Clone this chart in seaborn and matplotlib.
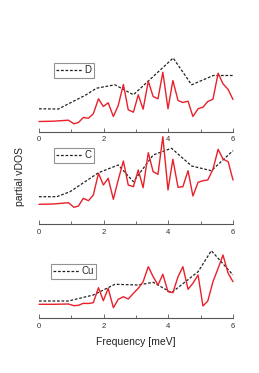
import matplotlib
matplotlib.use("Agg")
import matplotlib.pyplot as plt
import seaborn as sns
import pandas as pd
from matplotlib.ticker import MultipleLocator

# ---- data ----
freq_red = [0, 0.44, 0.91, 1.08, 1.22, 1.37, 1.53, 1.68, 1.84, 1.99, 2.14, 2.30,
            2.45, 2.61, 2.76, 2.92, 3.07, 3.22, 3.38, 3.53, 3.68, 3.83, 3.99, 4.14,
            4.30, 4.45, 4.61, 4.76, 4.92, 5.07, 5.22, 5.38, 5.54, 5.69, 5.85, 6.0]

d_red = [10, 10.3, 11.3, 7.7, 9, 14, 13.3, 17.7, 32.7, 25, 28.7, 15, 26, 47, 21.7,
         19.3, 36.7, 22.3, 50.3, 35, 32.7, 59.3, 22.7, 51, 31, 29, 30.3, 15, 22.7,
         24.3, 30, 32.3, 58.3, 47.7, 42, 32]
d_dash_x = [0, 0.6, 1.11, 1.42, 1.78, 2.35, 2.92, 4.15, 4.72, 5.39, 6.0]
d_dash = [22.7, 22.5, 31, 36, 43.3, 46.7, 36.7, 73.5, 46.7, 56, 56]

c_red = [19.7, 20, 21.3, 16.7, 18, 25.7, 23.3, 29, 50.7, 39, 45.7, 24.7, 44, 63, 39,
         37.3, 54, 36.3, 71.3, 52.3, 49.7, 87.3, 34, 64.7, 36.7, 37.3, 53.3, 28, 41.7,
         43.3, 44, 54.7, 74.7, 65, 62.3, 44]
c_dash_x = [0, 0.55, 0.96, 1.84, 2.45, 2.92, 3.53, 4.1, 4.72, 5.33, 6.0]
c_dash = [27.3, 27.3, 32.3, 51.3, 59, 42.3, 69, 75.7, 58, 53.3, 73.3]

cu_red = [13.7, 13.7, 14, 12.3, 12.7, 14.7, 14.5, 15.3, 30.3, 17.3, 29.7, 10.3, 18.7,
          21.3, 19, 24.7, 29.7, 36.3, 51.3, 41.3, 33, 43.7, 26.3, 25.3, 41.3, 51.3,
          28.7, 34.7, 43, 12, 17, 36.3, 49.7, 63, 44.7, 36.3]
cu_dash_x = [0, 0.91, 1.68, 2.35, 3.07, 3.53, 4.1, 4.92, 5.33, 6.0]
cu_dash = [17, 17, 23, 33.7, 33, 35.7, 25.3, 46.3, 67.3, 43]

labels = ["D", "C", "Cu"]
xticks = [0, 2, 4, 6]

# ---- figure ----
sns.set_style("white")
plt.rcParams["font.family"] = ["Liberation Sans", "DejaVu Sans"]

W, H = 259, 373
fig = plt.figure(figsize=(W / 100, H / 100), dpi=100)

panel_h = 88
bottoms_px = [131.5, 224, 318]
legend_pos = [(0.077, 0.78), (0.077, 0.864), (0.062, 0.614)]
reds = [d_red, c_red, cu_red]
dash_xs = [d_dash_x, c_dash_x, cu_dash_x]
dashes = [d_dash, c_dash, cu_dash]

for i in range(3):
    b = bottoms_px[i]
    ax = fig.add_axes([39 / W, (H - b) / H, 194 / W, panel_h / H])
    ax.patch.set_visible(False)
    df_r = pd.DataFrame({"f": freq_red, "v": reds[i]})
    df_d = pd.DataFrame({"f": dash_xs[i], "v": dashes[i]})
    sns.lineplot(data=df_d, x="f", y="v", ax=ax, color="#222222", lw=0.9,
                 linestyle=(0, (2.2, 1.4)), label=labels[i])
    sns.lineplot(data=df_r, x="f", y="v", ax=ax, color="#e8202a", lw=1.0)
    for ln in ax.lines:
        ln.set_clip_on(False)
    ax.set_xlim(0, 6)
    ax.set_ylim(0, panel_h)
    ax.set_xlabel("")
    ax.set_ylabel("")
    ax.set_yticks([])
    for s in ["left", "top", "right"]:
        ax.spines[s].set_visible(False)
    ax.spines["bottom"].set_color("#555555")
    ax.spines["bottom"].set_linewidth(0.8)
    ax.set_xticks(xticks)
    ax.xaxis.set_minor_locator(MultipleLocator(1))
    ax.tick_params(axis="x", which="major", direction="in", length=3, width=0.6,
                   colors="#555555", labelsize=5.5, labelcolor="#333333", pad=3.5,
                   bottom=True)
    ax.tick_params(axis="x", which="minor", direction="in", length=2, width=0.6,
                   colors="#555555", bottom=True)
    leg = ax.legend(loc="upper left", bbox_to_anchor=legend_pos[i],
                    borderaxespad=0, fontsize=7, frameon=True, fancybox=False,
                    handlelength=2.6, handletextpad=0.3, borderpad=0.25)
    leg.get_frame().set_edgecolor("#777777")
    leg.get_frame().set_linewidth(0.8)
    if i == 2:
        ax.set_xlabel("Frequency [meV]", fontsize=7.5, color="#222222", labelpad=5)

fig.text(20 / W, 1 - 177 / H, "partial vDOS", rotation=90, fontsize=7.5,
         color="#222222", ha="center", va="center")

fig.savefig("out.png", dpi=100)
